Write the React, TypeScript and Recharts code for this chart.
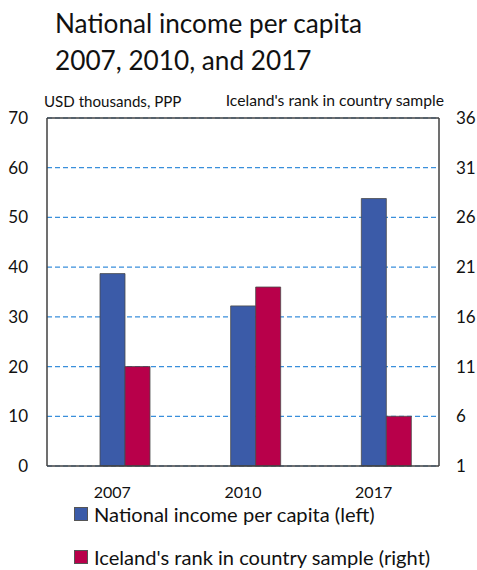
import { BarChart, Bar, XAxis, YAxis, CartesianGrid, ReferenceLine } from 'recharts';

const years = ['2007', '2010', '2017'];
const incomePerCapita = [38.7, 32.2, 53.8];
const icelandRank = [11, 19, 6];
// Excel chart has an empty first series that shifts the visible pair right
const emptySeries = [null, null, null];

const leftTicks = [0, 10, 20, 30, 40, 50, 60, 70];
const rightTicks = [1, 6, 11, 16, 21, 26, 31, 36];

const data = years.map((year, i) => ({
  year,
  blank: emptySeries[i],
  income: incomePerCapita[i],
  rank: icelandRank[i],
}));

const FONT = 'Lato, "Open Sans", sans-serif';
const BLUE = '#3B5BA8';
const RED = '#B8004A';
const AXIS = '#404040';

function LegendRow({ color, label, top }: { color: string; label: string; top: number }) {
  return (
    <div style={{ position: 'absolute', left: 74, top, display: 'flex', alignItems: 'center' }}>
      <div style={{ width: 12, height: 12, background: color, border: '1px solid #555', marginRight: 6 }} />
      <span style={{ fontSize: 20.1, color: '#111', whiteSpace: 'nowrap' }}>{label}</span>
    </div>
  );
}

export default function App() {
  return (
    <div style={{ position: 'absolute', left: 0, top: 0, width: 477, height: 570, background: '#fff', fontFamily: FONT, color: '#111' }}>
      <div style={{ position: 'absolute', left: 55, top: 5, fontSize: 26.2, lineHeight: '37px', whiteSpace: 'nowrap' }}>
        National income per capita
        <br />
        2007, 2010, and 2017
      </div>
      <div style={{ position: 'absolute', left: 44, top: 92, fontSize: 15.1, whiteSpace: 'nowrap' }}>USD thousands, PPP</div>
      <div style={{ position: 'absolute', right: 477 - 444, top: 91, fontSize: 15.7, whiteSpace: 'nowrap' }}>
        Iceland's rank in country sample
      </div>
      <div style={{ position: 'absolute', left: 0, top: 0 }}>
        <BarChart width={477} height={500} data={data} margin={{ top: 118, right: 0, left: 0, bottom: 4 }} barGap={0}>
          <CartesianGrid vertical={false} stroke="#3A8FDB" strokeDasharray="5 3" strokeWidth={1.2} yAxisId="left" />
          <XAxis
            dataKey="year"
            height={30}
            tickLine={false}
            tickSize={0}
            tickMargin={21}
            axisLine={{ stroke: AXIS, strokeWidth: 1.5 }}
            tick={{ fill: '#111', fontSize: 16, fontFamily: FONT }}
          />
          <YAxis
            yAxisId="left"
            width={47}
            domain={[0, 70]}
            ticks={leftTicks}
            interval={0}
            tickLine={false}
            tickSize={0}
            tickMargin={19}
            axisLine={{ stroke: AXIS, strokeWidth: 1.5 }}
            tick={{ fill: '#111', fontSize: 17, fontFamily: FONT }}
          />
          <YAxis
            yAxisId="right"
            orientation="right"
            width={38}
            domain={[1, 36]}
            ticks={rightTicks}
            interval={0}
            tickLine={false}
            tickSize={0}
            tickMargin={17}
            axisLine={{ stroke: AXIS, strokeWidth: 1.5 }}
            tick={{ fill: '#111', fontSize: 17, fontFamily: FONT, textAnchor: 'start' }}
          />
          <Bar dataKey="blank" yAxisId="left" barSize={25} fill="none" isAnimationActive={false} />
          <Bar dataKey="income" yAxisId="left" barSize={25} fill={BLUE} stroke="#4a4a4a" strokeWidth={0.8} isAnimationActive={false} />
          <Bar dataKey="rank" yAxisId="right" barSize={25} fill={RED} stroke="#4a4a4a" strokeWidth={0.8} isAnimationActive={false} />
          <ReferenceLine yAxisId="left" y={70} stroke={AXIS} strokeWidth={1.5} strokeDasharray="0" ifOverflow="visible" />
        </BarChart>
      </div>
      <LegendRow color={BLUE} label="National income per capita (left)" top={502} />
      <LegendRow color={RED} label="Iceland's rank in country sample (right)" top={545} />
    </div>
  );
}
